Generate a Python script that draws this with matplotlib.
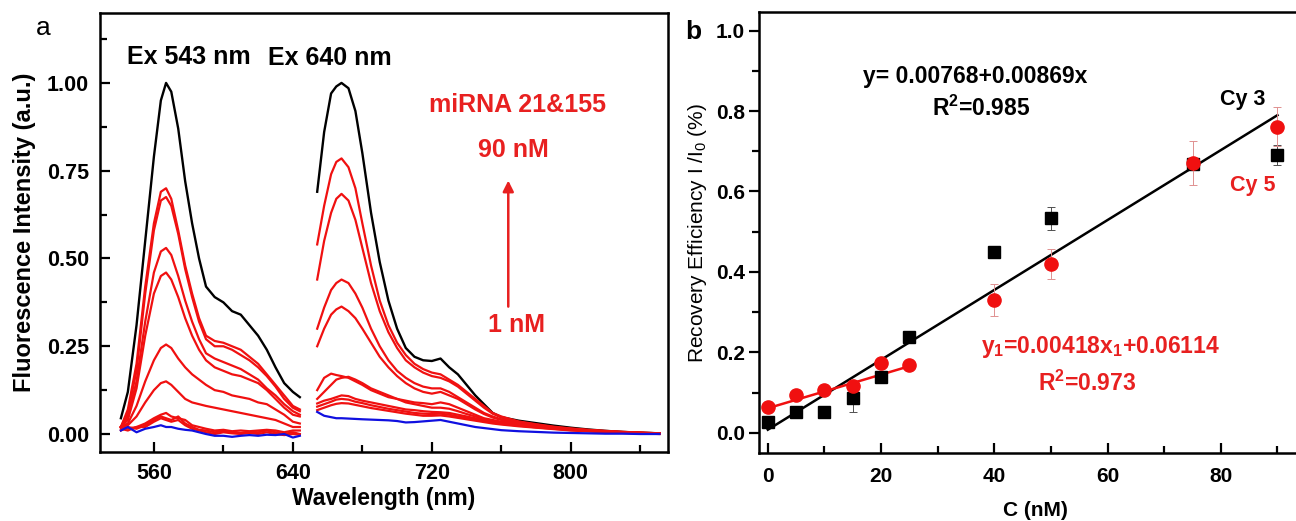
import matplotlib
matplotlib.use("Agg")
import matplotlib.pyplot as plt
import numpy as np

plt.rcParams['font.family'] = ['Liberation Sans', 'DejaVu Sans']
plt.rcParams['mathtext.fontset'] = 'custom'
plt.rcParams['mathtext.rm'] = 'Liberation Sans'
plt.rcParams['mathtext.bf'] = 'Liberation Sans:bold'
plt.rcParams['mathtext.default'] = 'bf'

# ---- panel a: spectra, Ex 543 nm ----
wl_543 = [541, 545, 550, 555, 560, 564, 567, 570, 574, 578, 582, 586, 590, 595,
          600, 605, 610, 615, 620, 625, 630, 635, 640, 644]
black_543 = [0.045, 0.12, 0.31, 0.55, 0.79, 0.95, 1.00, 0.975, 0.87, 0.72, 0.60, 0.50,
             0.42, 0.39, 0.375, 0.35, 0.34, 0.31, 0.28, 0.24, 0.19, 0.145, 0.12, 0.105]
red_543 = [
    [0.02, 0.07, 0.20, 0.42, 0.60, 0.69, 0.70, 0.67, 0.58, 0.48, 0.40, 0.33,
     0.28, 0.265, 0.26, 0.25, 0.24, 0.22, 0.20, 0.17, 0.14, 0.11, 0.08, 0.07],
    [0.02, 0.06, 0.18, 0.40, 0.58, 0.665, 0.675, 0.65, 0.57, 0.47, 0.39, 0.32,
     0.27, 0.25, 0.25, 0.24, 0.225, 0.21, 0.19, 0.165, 0.135, 0.10, 0.075, 0.065],
    [0.02, 0.05, 0.15, 0.32, 0.46, 0.52, 0.53, 0.51, 0.45, 0.38, 0.32, 0.27,
     0.23, 0.215, 0.205, 0.195, 0.185, 0.17, 0.155, 0.13, 0.11, 0.085, 0.065, 0.055],
    [0.02, 0.04, 0.13, 0.28, 0.40, 0.45, 0.46, 0.44, 0.39, 0.33, 0.28, 0.24,
     0.21, 0.19, 0.18, 0.17, 0.165, 0.155, 0.145, 0.125, 0.10, 0.075, 0.055, 0.05],
    [0.02, 0.03, 0.08, 0.15, 0.21, 0.245, 0.255, 0.245, 0.215, 0.19, 0.17, 0.155,
     0.14, 0.125, 0.12, 0.11, 0.105, 0.10, 0.09, 0.085, 0.07, 0.055, 0.035, 0.03],
    [0.02, 0.025, 0.05, 0.09, 0.125, 0.145, 0.15, 0.14, 0.12, 0.10, 0.09, 0.085,
     0.08, 0.075, 0.07, 0.065, 0.06, 0.055, 0.05, 0.045, 0.04, 0.03, 0.02, 0.02],
    [0.02, 0.015, 0.02, 0.03, 0.045, 0.055, 0.06, 0.05, 0.045, 0.04, 0.025, 0.02,
     0.015, 0.01, 0.012, 0.008, 0.01, 0.008, 0.01, 0.012, 0.01, 0.005, 0.01, 0.01],
    [0.01, 0.02, 0.015, 0.025, 0.04, 0.05, 0.045, 0.04, 0.05, 0.03, 0.02, 0.012,
     0.01, 0.005, 0.008, 0.005, 0.003, 0.006, 0.005, 0.01, 0.005, 0.0, 0.005, 0.0],
    [0.015, 0.01, 0.02, 0.02, 0.035, 0.045, 0.04, 0.035, 0.04, 0.025, 0.015, 0.01,
     0.005, 0.0, 0.005, 0.002, 0.0, 0.003, 0.0, 0.005, 0.0, -0.003, 0.0, -0.002],
]
blue_543 = [0.01, 0.02, 0.005, 0.015, 0.02, 0.025, 0.02, 0.02, 0.015, 0.012, 0.01, 0.005,
            0.0, -0.005, -0.005, -0.008, -0.005, -0.003, -0.005, -0.002, -0.003, 0.0, -0.01, -0.005]

# ---- panel a: spectra, Ex 640 nm ----
wl_640 = [654, 658, 662, 665, 668, 672, 676, 680, 685, 690, 695, 700, 705, 710, 715,
          720, 725, 730, 735, 740, 745, 750, 755, 760, 770, 780, 790, 800, 810, 820,
          830, 840, 851]
black_640 = [0.69, 0.86, 0.97, 0.99, 1.00, 0.985, 0.92, 0.80, 0.63, 0.49, 0.38, 0.30,
             0.245, 0.22, 0.21, 0.208, 0.215, 0.19, 0.17, 0.14, 0.11, 0.085, 0.06,
             0.048, 0.038, 0.031, 0.024, 0.018, 0.013, 0.009, 0.006, 0.004, 0.002]
red_640 = [
    [0.54, 0.65, 0.74, 0.775, 0.785, 0.76, 0.70, 0.60, 0.48, 0.38, 0.31, 0.26, 0.225,
     0.20, 0.185, 0.175, 0.17, 0.155, 0.14, 0.12, 0.10, 0.08, 0.06, 0.05, 0.036,
     0.028, 0.021, 0.016, 0.012, 0.009, 0.006, 0.004, 0.002],
    [0.44, 0.55, 0.63, 0.67, 0.684, 0.665, 0.61, 0.53, 0.43, 0.35, 0.29, 0.245, 0.21,
     0.19, 0.175, 0.165, 0.16, 0.15, 0.135, 0.115, 0.095, 0.075, 0.058, 0.048, 0.034,
     0.027, 0.02, 0.015, 0.011, 0.008, 0.006, 0.004, 0.002],
    [0.30, 0.36, 0.41, 0.43, 0.44, 0.43, 0.40, 0.36, 0.30, 0.25, 0.21, 0.18, 0.16,
     0.145, 0.135, 0.13, 0.13, 0.12, 0.105, 0.09, 0.075, 0.06, 0.05, 0.042, 0.032,
     0.025, 0.019, 0.014, 0.011, 0.008, 0.005, 0.003, 0.002],
    [0.25, 0.30, 0.34, 0.355, 0.363, 0.35, 0.33, 0.30, 0.26, 0.22, 0.19, 0.165, 0.145,
     0.13, 0.12, 0.115, 0.12, 0.11, 0.10, 0.085, 0.07, 0.057, 0.047, 0.04, 0.031,
     0.024, 0.018, 0.014, 0.01, 0.007, 0.005, 0.003, 0.001],
    [0.125, 0.16, 0.172, 0.168, 0.165, 0.16, 0.15, 0.14, 0.125, 0.115, 0.105, 0.10,
     0.095, 0.09, 0.088, 0.085, 0.09, 0.085, 0.075, 0.065, 0.055, 0.045, 0.04, 0.035,
     0.029, 0.023, 0.018, 0.013, 0.01, 0.007, 0.005, 0.003, 0.001],
    [0.10, 0.12, 0.14, 0.155, 0.16, 0.163, 0.155, 0.145, 0.13, 0.12, 0.11, 0.10, 0.09,
     0.085, 0.08, 0.075, 0.075, 0.072, 0.065, 0.057, 0.05, 0.043, 0.037, 0.033,
     0.027, 0.022, 0.017, 0.013, 0.009, 0.007, 0.004, 0.003, 0.001],
    [0.087, 0.095, 0.10, 0.105, 0.11, 0.108, 0.10, 0.095, 0.09, 0.085, 0.08, 0.075,
     0.07, 0.068, 0.065, 0.063, 0.062, 0.06, 0.055, 0.05, 0.045, 0.04, 0.035, 0.03,
     0.025, 0.02, 0.016, 0.012, 0.009, 0.006, 0.004, 0.002, 0.001],
    [0.078, 0.085, 0.092, 0.098, 0.10, 0.098, 0.092, 0.088, 0.082, 0.077, 0.072, 0.068,
     0.064, 0.06, 0.058, 0.057, 0.058, 0.055, 0.05, 0.046, 0.041, 0.037, 0.033, 0.029,
     0.024, 0.019, 0.015, 0.011, 0.008, 0.006, 0.004, 0.002, 0.001],
    [0.068, 0.075, 0.082, 0.086, 0.088, 0.087, 0.083, 0.079, 0.074, 0.07, 0.066, 0.062,
     0.058, 0.055, 0.052, 0.052, 0.053, 0.05, 0.046, 0.042, 0.038, 0.034, 0.03, 0.027,
     0.022, 0.018, 0.014, 0.01, 0.008, 0.005, 0.003, 0.002, 0.0],
]
blue_640 = [0.063, 0.052, 0.048, 0.045, 0.045, 0.044, 0.043, 0.042, 0.041, 0.040, 0.039,
            0.037, 0.033, 0.034, 0.036, 0.038, 0.04, 0.035, 0.03, 0.025, 0.02, 0.017,
            0.014, 0.011, 0.008, 0.006, 0.004, 0.003, 0.002, 0.001, 0.001, 0.0, 0.0]

# ---- panel b: recovery efficiency ----
conc = [0, 5, 10, 15, 20, 25, 40, 50, 75, 90]
cy3 = [0.027, 0.052, 0.052, 0.086, 0.139, 0.239, 0.450, 0.533, 0.668, 0.691]
cy3_err = [0.01, 0.008, 0.008, 0.035, 0.01, 0.01, 0.015, 0.029, 0.01, 0.025]
cy5 = [0.065, 0.094, 0.106, 0.116, 0.173, 0.168, 0.330, 0.420, 0.670, 0.761]
cy5_err = [0.008, 0.008, 0.008, 0.008, 0.01, 0.008, 0.04, 0.038, 0.055, 0.048]
fit_cy3 = [0.00768, 0.00869]   # intercept, slope, 0-90 nM
fit_cy5 = [0.06114, 0.00418]   # intercept, slope, 0-25 nM

RED = '#f01010'
TRED = '#e82020'

fig = plt.figure(figsize=(12.96, 5.21), dpi=100)

# panel a
ax1 = fig.add_axes([0.0772, 0.1319, 0.4383, 0.8437])
ax1.plot(wl_543, black_543, color='black', lw=1.7)
ax1.plot(wl_640, black_640, color='black', lw=1.7)
for c in red_543:
    ax1.plot(wl_543, c, color=RED, lw=1.6)
for c in red_640:
    ax1.plot(wl_640, c, color=RED, lw=1.6)
ax1.plot(wl_543, blue_543, color='#1010e0', lw=1.6)
ax1.plot(wl_640, blue_640, color='#1010e0', lw=1.6)

ax1.set_xlim(529, 856)
ax1.set_ylim(-0.052, 1.2)
ax1.set_xticks([560, 640, 720, 800])
ax1.set_xticks([600, 680, 760, 840], minor=True)
ax1.set_yticks([0, 0.25, 0.5, 0.75, 1.0])
ax1.set_yticks([0.125, 0.375, 0.625, 0.875, 1.125], minor=True)
ax1.tick_params(direction='in', which='both', width=1.6, labelsize=15.5, pad=8)
ax1.tick_params(which='major', length=7)
ax1.tick_params(which='minor', length=5)
ax1.set_yticklabels(['0.00', '0.25', '0.50', '0.75', '1.00'])
for lab in ax1.get_xticklabels() + ax1.get_yticklabels():
    lab.set_fontweight('bold')
for sp in ax1.spines.values():
    sp.set_linewidth(1.8)
ax1.set_xlabel('Wavelength (nm)', fontsize=16.5, fontweight='bold', labelpad=2)
ax1.set_ylabel('Fluorescence Intensity (a.u.)', fontsize=17, fontweight='bold', labelpad=8)

ax1.text(580, 1.073, 'Ex 543 nm', fontsize=18, fontweight='bold', ha='center', va='center')
ax1.text(661, 1.07, 'Ex 640 nm', fontsize=18, fontweight='bold', ha='center', va='center')
ax1.text(769.5, 0.936, 'miRNA 21&155', fontsize=18, fontweight='bold', color=TRED,
         ha='center', va='center')
ax1.text(767, 0.808, '90 nM', fontsize=18, fontweight='bold', color=TRED,
         ha='center', va='center')
ax1.text(769, 0.31, '1 nM', fontsize=18, fontweight='bold', color=TRED,
         ha='center', va='center')
ax1.annotate('', xy=(764, 0.73), xytext=(764, 0.355),
             arrowprops=dict(arrowstyle='-|>', color=TRED, lw=1.8,
                             mutation_scale=16))

# panel b
ax2 = fig.add_axes([0.5859, 0.1299, 0.426, 0.8476])
xs3 = np.array([conc[0], conc[-1]])
xs5 = np.array([conc[0], conc[5]])
ax2.plot(xs3, fit_cy3[0] + fit_cy3[1] * xs3, color='black', lw=1.8, zorder=2)
ax2.plot(xs5, fit_cy5[0] + fit_cy5[1] * xs5, color=RED, lw=1.8, zorder=2)
ax2.errorbar(conc, cy3, yerr=cy3_err, fmt='s', color='black', ms=8,
             ecolor='#505050', elinewidth=0.7, capsize=3, capthick=0.7, zorder=3)
ax2.errorbar(conc, cy5, yerr=cy5_err, fmt='o', color=RED, ms=9.5,
             ecolor='#e09090', elinewidth=0.7, capsize=3, capthick=0.7, zorder=4)

ax2.set_xlim(-1.5, 96)
ax2.set_ylim(-0.051, 1.047)
ax2.set_xticks([0, 20, 40, 60, 80])
ax2.set_xticks([10, 30, 50, 70, 90], minor=True)
ax2.set_yticks([0, 0.2, 0.4, 0.6, 0.8, 1.0])
ax2.set_yticks([0.1, 0.3, 0.5, 0.7, 0.9], minor=True)
ax2.tick_params(axis='x', direction='in', which='both', width=1.6)
ax2.tick_params(axis='y', direction='out', which='both', width=1.6)
ax2.tick_params(which='major', length=7, labelsize=15)
ax2.tick_params(which='minor', length=5)
ax2.tick_params(axis='x', pad=10)
for lab in ax2.get_xticklabels() + ax2.get_yticklabels():
    lab.set_fontweight('bold')
for sp in ax2.spines.values():
    sp.set_linewidth(1.8)
ax2.set_xlabel('C (nM)', fontsize=15, fontweight='bold', labelpad=11)
ax2.set_ylabel(r'Recovery Efficiency I /I$_\mathrm{0}$ (%)', fontsize=15, labelpad=5)

ax2.text(36.6, 0.887, 'y= 0.00768+0.00869x', fontsize=16.5, fontweight='bold',
         ha='center', va='center')
ax2.text(37.6, 0.807, r'R$^2$=0.985', fontsize=16.5, fontweight='bold',
         ha='center', va='center')
ax2.text(83.9, 0.828, 'Cy 3', fontsize=15.5, fontweight='bold', ha='center', va='center')
ax2.text(85.7, 0.616, 'Cy 5', fontsize=15.5, fontweight='bold', color=TRED,
         ha='center', va='center')
ax2.text(58.7, 0.213, r'y$_1$=0.00418x$_1$+0.06114', fontsize=16.5, fontweight='bold',
         color=TRED, ha='center', va='center')
ax2.text(56.4, 0.124, r'R$^2$=0.973', fontsize=16.5, fontweight='bold', color=TRED,
         ha='center', va='center')

fig.text(0.033, 0.946, 'a', fontsize=19, ha='center', va='center')
fig.text(0.535, 0.938, 'b', fontsize=19, fontweight='bold', ha='center', va='center')

fig.savefig('out.png', dpi=100)
